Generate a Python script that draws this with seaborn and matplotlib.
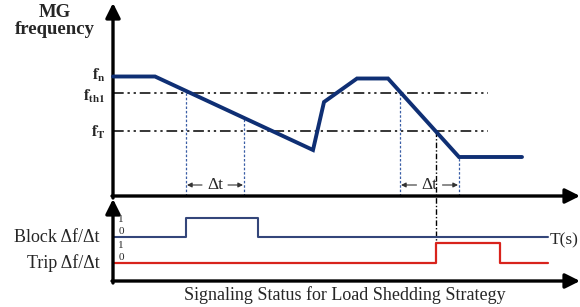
import numpy as np
import pandas as pd
import seaborn as sns
import matplotlib.pyplot as plt

# MG frequency trace (time and frequency in arbitrary units)
curve_t = [0, 4.2, 20.0, 21.1, 24.4, 27.5, 34.6, 40.9]
curve_f = [11.95, 11.95, 4.6, 9.4, 11.75, 11.75, 3.9, 3.9]

# frequency levels
level_labels = [r"$\mathbf{f_n}$", r"$\mathbf{f_{th1}}$", r"$\mathbf{f_T}$"]
level_values = [11.95, 10.35, 6.5]

# delta-t windows (start, end)
dt_windows = [(7.3, 13.1), (28.7, 34.6)]
trip_time = 32.3

# signal states (steps-post)
block_t = [0, 7.3, 14.5, 43.5]
block_state = [0, 1, 0, 0]
trip_t = [0, 32.3, 38.7, 43.5]
trip_state = [0, 1, 0, 0]

sns.set_theme(style="white")
plt.rcParams["font.family"] = ["Liberation Serif", "DejaVu Serif"]
plt.rcParams["mathtext.fontset"] = "stix"

fig = plt.figure(figsize=(5.8, 3.07), dpi=100)
ax = fig.add_axes([0, 0, 1, 1])
ax.set_xlim(-11.3, 46.7)
ax.set_ylim(-11.1, 19.6)
ax.set_axis_off()

navy = "#0f2f74"
dot_blue = "#3a5ea6"

# reference levels
for v in level_values[1:]:
    ax.plot([0, 37.5], [v, v], color="black", lw=1.1, ls=(0, (7, 2.5, 1.5, 2.5, 1.5, 2.5)))

# frequency curve
df = pd.DataFrame({"t": curve_t, "f": curve_f})
sns.lineplot(data=df, x="t", y="f", ax=ax, color=navy, lw=2.8, sort=False,
             estimator=None, solid_joinstyle="miter", zorder=4)

# delta-t guides
for t0, t1 in dt_windows:
    for t in (t0, t1):
        top = np.interp(t, curve_t, curve_f)
        ax.plot([t, t], [0, top], color=dot_blue, lw=0.9, ls=(0, (2, 1.5)))
    mid = (t0 + t1) / 2
    ax.text(mid, 1.1, "Δt", ha="center", va="center", fontsize=12.5)
    ax.annotate("", xy=(t0 + 0.1, 1.1), xytext=(mid - 1.3, 1.1),
                arrowprops=dict(arrowstyle="-|>", lw=0.8, color="#333333",
                                mutation_scale=7, shrinkA=0, shrinkB=0))
    ax.annotate("", xy=(t1 - 0.1, 1.1), xytext=(mid + 1.3, 1.1),
                arrowprops=dict(arrowstyle="-|>", lw=0.8, color="#333333",
                                mutation_scale=7, shrinkA=0, shrinkB=0))

# trip instant
ax.plot([trip_time, trip_time], [level_values[2], -4.7], color="black", lw=1.0,
        ls=(0, (4, 1.5, 1, 1.5)))

# signals
block_y = -4.1 + 1.9 * np.array(block_state)
trip_y = -6.7 + 2.0 * np.array(trip_state)
sns.lineplot(x=block_t, y=block_y, ax=ax, color="#34467a", lw=1.5, sort=False,
             estimator=None, drawstyle="steps-post")
sns.lineplot(x=trip_t, y=trip_y, ax=ax, color="#d8231c", lw=1.6, sort=False,
             estimator=None, drawstyle="steps-post")

# axes arrows
arrow = dict(arrowstyle="-|>", lw=2.4, color="black", mutation_scale=22,
             shrinkA=0, shrinkB=0)
ax.annotate("", xy=(0, 19.3), xytext=(0, -0.2), arrowprops=arrow)
ax.annotate("", xy=(46.7, 0), xytext=(-0.1, 0), arrowprops=arrow)
ax.annotate("", xy=(0, -0.3), xytext=(0, -8.7), arrowprops=arrow)
ax.annotate("", xy=(46.7, -8.5), xytext=(-0.1, -8.5), arrowprops=arrow)

# texts
ax.text(-5.8, 17.55, "MG\nfrequency", ha="center", va="center", fontsize=13.5,
        fontweight="bold", linespacing=1.0)
label_y = [12.3, 10.2, 6.6]
for lab, y in zip(level_labels, label_y):
    ax.text(-0.7, y, lab, ha="right", va="center_baseline", fontsize=11.5)
ax.text(45.1, -4.4, "T(s)", ha="center", va="center", fontsize=12.5)

for base, name in [(-4.1, "Block Δf/Δt"), (-6.7, "Trip Δf/Δt")]:
    ax.text(-1.3, base, name, ha="right", va="center", fontsize=13)
    ax.text(0.8, base + 1.8, "1", ha="center", va="center", fontsize=8)
    ax.text(0.8, base + 0.6, "0", ha="center", va="center", fontsize=8)

ax.text(23.2, -9.95, "Signaling Status for Load Shedding Strategy", ha="center",
        va="center", fontsize=13)

fig.savefig("out.png", dpi=100)
